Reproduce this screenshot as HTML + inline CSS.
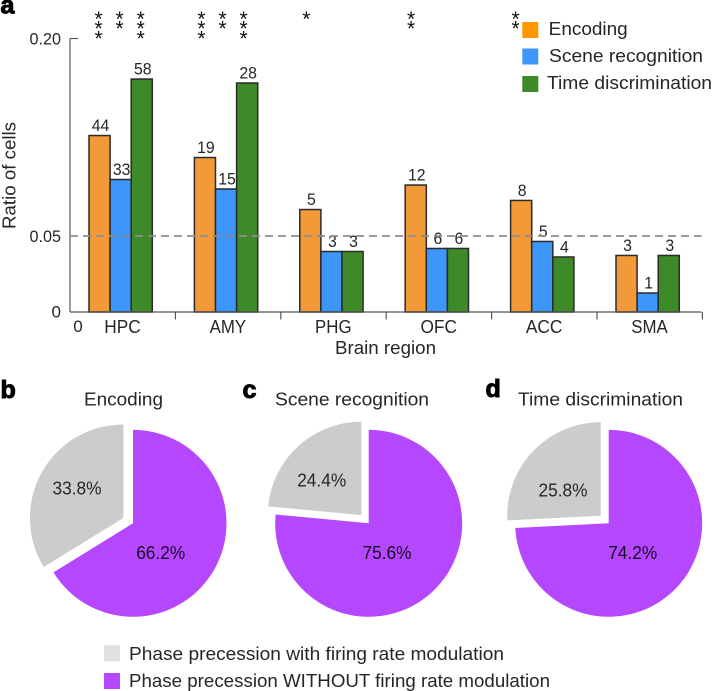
<!DOCTYPE html>
<html lang="en">
<head>
<meta charset="utf-8">
<title>Ratio of cells by brain region</title>
<style>
html,body{margin:0;padding:0;background:#fff;width:712px;height:691px;overflow:hidden}
svg{display:block}
text{font-family:"Liberation Sans",sans-serif;fill:#262626;font-size:18.5px}
.num{font-size:17px}
.letter{font-size:25px;font-weight:bold;fill:#000;stroke:#000;stroke-width:1px}
</style>
</head>
<body>
<svg id="figure" width="712" height="691" viewBox="0 0 712 691" xmlns="http://www.w3.org/2000/svg">
  <text class="letter" x="0.5" y="13.5">a</text>
  <text class="letter" x="0.5" y="398">b</text>
  <text class="letter" x="242.5" y="398">c</text>
  <text class="letter" x="485.5" y="397">d</text>

  <g id="bars"></g>
  <g id="axes"></g>

  <text transform="translate(15.5 175.5) rotate(-90)" text-anchor="middle" textLength="107" lengthAdjust="spacingAndGlyphs">Ratio of cells</text>
  <text x="335" y="354" textLength="101" lengthAdjust="spacingAndGlyphs">Brain region</text>

  <g>
    <rect x="522.3" y="22" width="16" height="16" fill="#FF9800"></rect>
    <text x="548.7" y="35" textLength="79" lengthAdjust="spacingAndGlyphs">Encoding</text>
    <rect x="522.3" y="48.5" width="16" height="16" fill="#3D96FA"></rect>
    <text x="549" y="62" textLength="154" lengthAdjust="spacingAndGlyphs">Scene recognition</text>
    <rect x="522.3" y="76" width="16" height="16" fill="#3F8A28"></rect>
    <text x="547" y="89" textLength="165" lengthAdjust="spacingAndGlyphs">Time discrimination</text>
  </g>

  <text x="84" y="405.7" textLength="79" lengthAdjust="spacingAndGlyphs">Encoding</text>
  <text x="275" y="405.7" textLength="154" lengthAdjust="spacingAndGlyphs">Scene recognition</text>
  <text x="518" y="405.7" textLength="165" lengthAdjust="spacingAndGlyphs">Time discrimination</text>

  <g id="pies"></g>

  <g>
    <rect x="104" y="645.3" width="16" height="16" fill="#E2E2E2"></rect>
    <text x="129" y="660" textLength="375" lengthAdjust="spacingAndGlyphs">Phase precession with firing rate modulation</text>
    <rect x="104" y="673" width="16" height="16" fill="#B548FF"></rect>
    <text x="129" y="687" textLength="421" lengthAdjust="spacingAndGlyphs">Phase precession WITHOUT firing rate modulation</text>
  </g>
</svg>

<script>
// ---- chart data ----
const regions = ['HPC', 'AMY', 'PHG', 'OFC', 'ACC', 'SMA'];
const seriesNames = ['encoding', 'scene-recognition', 'time-discrimination'];
const encodingRatio = [0.1263, 0.1096, 0.0701, 0.0887, 0.0770, 0.0372];
const sceneRatio = [0.0929, 0.0857, 0.0398, 0.0418, 0.0464, 0.0125];
const timeRatio = [0.1692, 0.1662, 0.0398, 0.0418, 0.0362, 0.0372];
const encodingCounts = [44, 19, 5, 12, 8, 3];
const sceneCounts = [33, 15, 3, 6, 5, 1];
const timeCounts = [58, 28, 3, 6, 4, 3];
const encodingStars = [3, 3, 1, 2, 2, 0];
const sceneStars = [2, 2, 0, 0, 0, 0];
const timeStars = [3, 3, 0, 0, 0, 0];
const yTickValues = [0, 0.05, 0.20];
const yTickLabels = ['0', '0.05', '0.20'];
const referenceLevel = 0.05;
const pieNames = ['encoding', 'scene-recognition', 'time-discrimination'];
const withModulationLabels = ['33.8%', '24.4%', '25.8%'];
const withoutModulationLabels = ['66.2%', '75.6%', '74.2%'];
// slice shares as drawn in the picture
const withModulationShare = [33.8, 23.5, 25.8];
const withoutModulationShare = [66.2, 76.5, 74.2];

// ---- layout ----
const SVGNS = 'http://www.w3.org/2000/svg';
const seriesRatios = [encodingRatio, sceneRatio, timeRatio];
const seriesCounts = [encodingCounts, sceneCounts, timeCounts];
const seriesStars = [encodingStars, sceneStars, timeStars];
const seriesColors = ['#F29A38', '#3D96FA', '#3F8A28'];
const axisLeft = 70, axisRight = 701.5, bandWidth = 105.4, barInset = 19, barWidth = 21.1;
const starShift = [-1, -3.5, -4, -4.6, -5.6, -6];
const pieCenterX = [133, 368.7, 608.7];
const pieCenterY = 523.3, pieRadius = 93.5, pieExplode = 11;
const pieGrayLabelPos = [[77, 488], [321.7, 480], [563, 490]];
const piePurpleLabelShift = [[27.7, 29.4], [18.3, 29.4], [24, 29.4]];

// piecewise y axis: the reference axis is stretched differently below and above 0.05
function yScale(v) {
  if (v <= yTickValues[1]) return 312 - (v / yTickValues[1]) * 76;
  return 236 - ((v - yTickValues[1]) / (yTickValues[2] - yTickValues[1])) * 197.5;
}
function xBand(i) { return axisLeft + bandWidth * i; }
function barX(i, s) { return xBand(i) + barInset + barWidth * s; }

function svgEl(tag, parent) {
  const el = document.createElementNS(SVGNS, tag);
  parent.appendChild(el);
  return el;
}
function setA(el, map) {
  for (const k in map) el.setAttribute(k, map[k]);
}

const barsG = document.getElementById('bars');
const axesG = document.getElementById('axes');
const piesG = document.getElementById('pies');

// bars, counts, significance stars
regions.forEach(function (region, i) {
  seriesNames.forEach(function (sName, s) {
    const top = yScale(seriesRatios[s][i]);
    const bar = svgEl('rect', barsG);
    
    
    setA(bar, {x: barX(i, s), y: top, width: barWidth, height: 312 - top, fill: seriesColors[s], stroke: '#2a2a2a', 'stroke-width': 1.5});

    const count = svgEl('text', barsG);
    
    
    const digits = String(seriesCounts[s][i]).length;
    setA(count, {x: barX(i, s) + barWidth / 2 + 1, y: top - 4.5, 'text-anchor': 'middle', 'class': 'num', textLength: digits * 8.8, lengthAdjust: 'spacingAndGlyphs'});
    count.textContent = seriesCounts[s][i];

    for (let k = 0; k < seriesStars[s][i]; k++) {
      const star = svgEl('text', barsG);
      
      
      setA(star, {x: barX(i, s) + barWidth / 2 + starShift[i], y: 26 + k * 9.7, 'text-anchor': 'middle'});
      star.style.fontSize = '21px';
      star.style.fill = '#111';
      star.textContent = '*';
    }
  });
});

// axes
const yLine = svgEl('line', axesG);


setA(yLine, {x1: axisLeft, x2: axisLeft, y1: yScale(yTickValues[2]), y2: yScale(0), stroke: '#555', 'stroke-width': 1.2});

const yTop = svgEl('line', axesG);


setA(yTop, {x1: axisLeft, x2: axisLeft + 8, y1: yScale(yTickValues[2]), y2: yScale(yTickValues[2]), stroke: '#555', 'stroke-width': 1.2});

const xLine = svgEl('line', axesG);


setA(xLine, {x1: axisLeft, x2: axisRight, y1: 312, y2: 312, stroke: '#555', 'stroke-width': 1.2});

yTickValues.forEach(function (v, i) {
  const t = svgEl('text', axesG);
  
  
  setA(t, {x: 61, y: yScale(v) + (i === 0 ? 5.5 : 6), 'text-anchor': 'end', 'class': 'num', textLength: yTickLabels[i].length > 1 ? 31.5 : 9.5, lengthAdjust: 'spacingAndGlyphs'});
  t.textContent = yTickLabels[i];
});

const xZero = svgEl('text', axesG);


setA(xZero, {x: 78, y: 332, 'text-anchor': 'middle', 'class': 'num', textLength: 9.5, lengthAdjust: 'spacingAndGlyphs'});
xZero.textContent = '0';

regions.forEach(function (region, i) {
  const tick = svgEl('line', axesG);
  
  
  setA(tick, {x1: xBand(i + 1), x2: xBand(i + 1), y1: 312, y2: 319.5, stroke: '#555', 'stroke-width': 1.2});

  const lab = svgEl('text', axesG);
  
  
  setA(lab, {x: xBand(i) + 52.5, y: 333, 'text-anchor': 'middle', textLength: 36.5, lengthAdjust: 'spacingAndGlyphs'});
  lab.textContent = region;
});

const refLine = svgEl('line', axesG);


setA(refLine, {x1: axisLeft, x2: axisRight, y1: yScale(referenceLevel), y2: yScale(referenceLevel), stroke: '#8c8c8c', 'stroke-width': 1.7, 'stroke-dasharray': '8 5'});

// pies
function polar(cx, cy, r, frac) {
  const a = frac * 2 * Math.PI;
  return [cx + r * Math.sin(a), cy - r * Math.cos(a)];
}
function wedge(cx, cy, r, f0, f1) {
  const p0 = polar(cx, cy, r, f0), p1 = polar(cx, cy, r, f1);
  const large = (f1 - f0) > 0.5 ? 1 : 0;
  return 'M' + cx + ' ' + cy + 'L' + p0[0] + ' ' + p0[1] + 'A' + r + ' ' + r + ' 0 ' + large + ' 1 ' + p1[0] + ' ' + p1[1] + 'Z';
}
pieNames.forEach(function (name, i) {
  const cx = pieCenterX[i], cy = pieCenterY;
  const total = withModulationShare[i] + withoutModulationShare[i];
  const purpleFrac = withoutModulationShare[i] / total;

  const purple = svgEl('path', piesG);
  
  
  setA(purple, {d: wedge(cx, cy, pieRadius, 0, purpleFrac), fill: '#B548FF'});

  const mid = (purpleFrac + 1) / 2;
  const apex = polar(cx, cy, pieExplode, mid);
  const gray = svgEl('path', piesG);
  
  
  setA(gray, {d: wedge(apex[0], apex[1], pieRadius, purpleFrac, 1), fill: '#CCCCCC'});

  const grayLabel = svgEl('text', piesG);
  
  
  setA(grayLabel, {x: pieGrayLabelPos[i][0], y: pieGrayLabelPos[i][1] + 6.5, 'text-anchor': 'middle', textLength: 49, lengthAdjust: 'spacingAndGlyphs'});
  grayLabel.style.fontSize = '18px';
  grayLabel.textContent = withModulationLabels[i];

  const purpleLabel = svgEl('text', piesG);
  
  
  setA(purpleLabel, {x: cx + piePurpleLabelShift[i][0], y: cy + piePurpleLabelShift[i][1] + 6.5, 'text-anchor': 'middle', textLength: 49, lengthAdjust: 'spacingAndGlyphs'});
  purpleLabel.style.fontSize = '18px';
  purpleLabel.style.fill = '#1a0a26';
  purpleLabel.textContent = withoutModulationLabels[i];
});
</script>
</body>
</html>
